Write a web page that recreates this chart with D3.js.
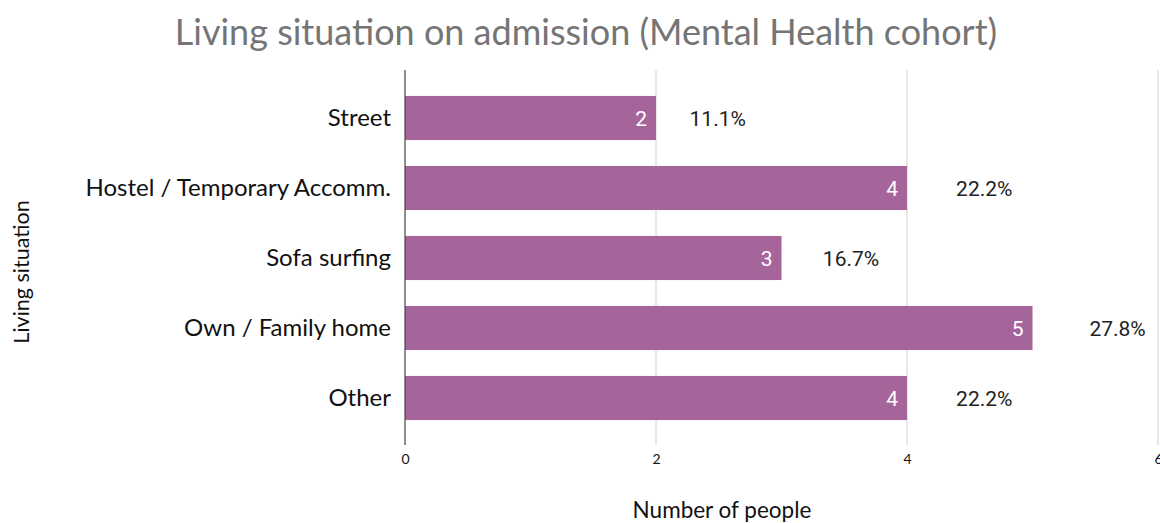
<!DOCTYPE html>
<html>
<head>
<meta charset="utf-8">
<script src="https://cdn.jsdelivr.net/npm/d3@7"></script>
<style>
  body { margin: 0; background: #fff; }
  svg { display: block; }
</style>
</head>
<body>
<svg id="chart"></svg>
<script>
// DATA
const categories = ["Street", "Hostel / Temporary Accomm.", "Sofa surfing", "Own / Family home", "Other"];
const counts = [2, 4, 3, 5, 4];
const percents = ["11.1%", "22.2%", "16.7%", "27.8%", "22.2%"];
const xTicks = [0, 2, 4, 6];

const W = 1160, H = 523;
const svg = d3.select('#chart').attr('width', W).attr('height', H);

const x = d3.scaleLinear().domain([0, 6]).range([405, 1158]);
const y = d3.scaleBand()
    .domain(categories)
    .range([83, 433])
    .paddingInner(0.37)
    .paddingOuter(0.185);

// title
svg.append('text')
    .attr('x', 586).attr('y', 45)
    .attr('text-anchor', 'middle')
    .style('font-family', 'Lato, "Open Sans", sans-serif')
    .style('font-size', '36px')
    .style('fill', '#757575')
    .text('Living situation on admission (Mental Health cohort)');

// gridlines
svg.append('g').selectAll('line')
    .data(xTicks.filter(d => d > 0))
    .join('line')
    .attr('x1', d => x(d)).attr('x2', d => x(d))
    .attr('y1', 70).attr('y2', 445)
    .attr('stroke', '#d0d0d0').attr('stroke-width', 1);

// bars
svg.append('g').selectAll('rect')
    .data(categories)
    .join('rect')
    .attr('x', x(0))
    .attr('y', d => y(d))
    .attr('width', (d, i) => x(counts[i]) - x(0))
    .attr('height', y.bandwidth())
    .attr('fill', '#a5659b');

// value labels inside bars
svg.append('g').selectAll('text')
    .data(categories)
    .join('text')
    .attr('x', (d, i) => x(counts[i]) - 9)
    .attr('y', d => y(d) + y.bandwidth() / 2)
    .attr('dy', '0.36em')
    .attr('text-anchor', 'end')
    .style('font-family', 'Roboto, sans-serif')
    .style('font-size', '21px')
    .style('fill', '#fff')
    .text((d, i) => counts[i]);

// percent labels (sit a bit further out on longer bars)
svg.append('g').selectAll('text')
    .data(categories)
    .join('text')
    .attr('x', (d, i) => x(counts[i] * 1.062) + 18)
    .attr('y', d => y(d) + y.bandwidth() / 2)
    .attr('dy', '0.36em')
    .style('font-family', 'Roboto, sans-serif')
    .style('font-size', '21px')
    .style('fill', '#222')
    .text((d, i) => percents[i]);

// y axis (category labels)
const yAxis = svg.append('g')
    .attr('transform', `translate(${x(0)},0)`)
    .call(d3.axisLeft(y).tickSize(0).tickPadding(14));
yAxis.select('.domain').remove();
yAxis.selectAll('text')
    .style('font-family', 'Lato, "Open Sans", sans-serif')
    .style('font-size', '24px')
    .style('fill', '#111');

svg.append('line')
    .attr('x1', x(0)).attr('x2', x(0))
    .attr('y1', 70).attr('y2', 445)
    .attr('stroke', '#444').attr('stroke-width', 1.2);

// x axis tick labels
const xAxis = svg.append('g')
    .attr('transform', 'translate(0,445)')
    .call(d3.axisBottom(x).tickValues(xTicks).tickSize(0).tickPadding(9).tickFormat(d3.format('d')));
xAxis.select('.domain').remove();
xAxis.selectAll('text')
    .style('font-family', 'Lato, "Open Sans", sans-serif')
    .style('font-size', '14px')
    .style('fill', '#111');

// axis titles
svg.append('text')
    .attr('x', 722).attr('y', 518)
    .attr('text-anchor', 'middle')
    .style('font-family', 'Lato, "Open Sans", sans-serif')
    .style('font-size', '22.5px')
    .style('fill', '#111')
    .text('Number of people');

svg.append('text')
    .attr('transform', 'translate(29,272) rotate(-90)')
    .attr('text-anchor', 'middle')
    .style('font-family', 'Lato, "Open Sans", sans-serif')
    .style('font-size', '21.5px')
    .style('fill', '#111')
    .text('Living situation');
</script>
</body>
</html>
